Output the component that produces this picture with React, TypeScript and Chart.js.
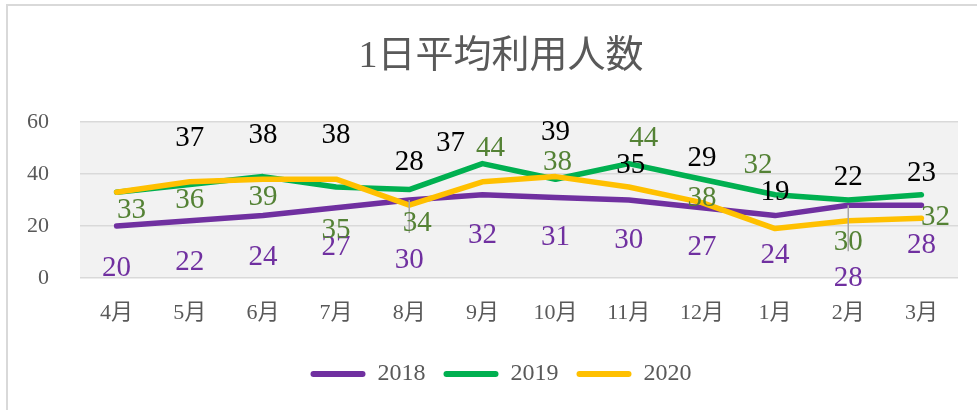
import React, { useEffect, useRef } from "react";
import { Chart, registerables } from "chart.js";

Chart.register(...registerables);

const months = ["4月", "5月", "6月", "7月", "8月", "9月", "10月", "11月", "12月", "1月", "2月", "3月"];
const values2018 = [20, 22, 24, 27, 30, 32, 31, 30, 27, 24, 28, 28];
const values2019 = [33, 36, 39, 35, 34, 44, 38, 44, 38, 32, 30, 32];
const values2020 = [33, 37, 38, 38, 28, 37, 39, 35, 29, 19, 22, 23];
const yTicks = [0, 20, 40, 60];
const seriesNames = ["2018", "2019", "2020"];
const show2020Label = [false, true, true, true, true, true, true, true, true, true, true, true];

// data label placement (pixel offsets from each point)
const labelDy2018 = [42, 42, 42, 40, 60, 41, 40, 40, 40, 40, 73, 40];
const labelDx2018 = [0, 0, 0, 0, 0, 0, 0, 0, 0, 0, 0, 0];
const labelDy2019 = [18, 16, 21, 43, 34, -15, -17, -25, 19, -29, 42, 23];
const labelDx2019 = [15, 0, 0, 0, 8, 8, 2, 15, 0, -17, 0, 14];
const labelDy2020 = [0, -43, -44, -44, -43, -38, -44, -22, -44, -36, -43, -45];
const labelDx2020 = [0, 0, 0, 0, 0, -32, 0, 2, 0, 0, 0, 0];

const FONT = "'Liberation Serif', 'Noto Sans CJK JP', serif";
const GREY_TEXT = "#595959";

export default function App() {
  const ref = useRef<HTMLCanvasElement | null>(null);

  useEffect(() => {
    if (!ref.current) return;

    const bgPlugin = {
      id: "bgPlugin",
      afterLayout(chart: any) {
        // the original chart frame extends past the right edge; centre title and legend on it
        const shift = 22;
        if (chart.titleBlock) {
          chart.titleBlock.left += shift;
          chart.titleBlock.right += shift;
        }
        if (chart.legend) {
          chart.legend.left += shift;
          chart.legend.right += shift;
        }
      },
      beforeDraw(chart: any) {
        const { ctx, chartArea } = chart;
        ctx.save();
        ctx.fillStyle = "#ffffff";
        ctx.fillRect(0, 0, chart.width, chart.height);
        ctx.strokeStyle = "#d9d9d9";
        ctx.lineWidth = 2;
        ctx.strokeRect(7, 5, 1200, 1200);
        ctx.fillStyle = "#f2f2f2";
        ctx.fillRect(chartArea.left, chartArea.top, chartArea.right - chartArea.left, chartArea.bottom - chartArea.top);
        ctx.restore();
      },
    };

    const labelSets = [
      { dx: labelDx2018, dy: labelDy2018, color: "#7030A0", show: values2018.map(() => true) },
      { dx: labelDx2019, dy: labelDy2019, color: "#548235", show: values2019.map(() => true) },
      { dx: labelDx2020, dy: labelDy2020, color: "#000000", show: show2020Label },
    ];

    const labelPlugin = {
      id: "labelPlugin",
      afterDatasetsDraw(chart: any) {
        const { ctx } = chart;
        ctx.save();
        chart.data.datasets.forEach((ds: any, di: number) => {
          const meta = chart.getDatasetMeta(di);
          const set = labelSets[di];
          meta.data.forEach((pt: any, i: number) => {
            if (!set.show[i]) return;
            if (Math.abs(set.dy[i]) > 50) {
              const ly = pt.y + set.dy[i];
              ctx.strokeStyle = "#a6a6a6";
              ctx.lineWidth = 1.5;
              ctx.beginPath();
              ctx.moveTo(pt.x, pt.y);
              ctx.lineTo(pt.x, ly - 27);
              ctx.stroke();
            }
          });
        });
        chart.data.datasets.forEach((ds: any, di: number) => {
          const meta = chart.getDatasetMeta(di);
          const set = labelSets[di];
          ctx.font = `29px ${FONT}`;
          ctx.textAlign = "center";
          ctx.textBaseline = "middle";
          ctx.fillStyle = set.color;
          meta.data.forEach((pt: any, i: number) => {
            if (!set.show[i]) return;
            ctx.fillText(String(ds.data[i]), pt.x + set.dx[i], pt.y + set.dy[i]);
          });
        });
        ctx.restore();
      },
    };

    const chart = new Chart(ref.current, {
      type: "line",
      data: {
        labels: months,
        datasets: [
          { label: seriesNames[0], data: values2018, borderColor: "#7030A0", backgroundColor: "#7030A0", order: 3 },
          { label: seriesNames[1], data: values2019, borderColor: "#00B050", backgroundColor: "#00B050", order: 2 },
          { label: seriesNames[2], data: values2020, borderColor: "#FFC000", backgroundColor: "#FFC000", order: 1 },
        ].map((d) => ({
          ...d,
          borderWidth: 5.5,
          pointRadius: 0,
          pointHoverRadius: 0,
          tension: 0,
          borderCapStyle: "round" as const,
          borderJoinStyle: "round" as const,
          fill: false,
        })),
      },
      options: {
        responsive: false,
        animation: false,
        layout: { padding: { left: 0, right: 19, top: 0, bottom: 14 } },
        plugins: {
          tooltip: { enabled: false },
          title: {
            display: true,
            text: "1日平均利用人数",
            color: GREY_TEXT,
            font: { family: FONT, size: 38, weight: "normal" as const, lineHeight: 1.2 },
            padding: { top: 34.2, bottom: 42.2 },
          },
          legend: {
            position: "bottom",
            labels: {
              boxWidth: 55,
              boxHeight: 6,
              useBorderRadius: true,
              borderRadius: 3,
              padding: 18,
              color: GREY_TEXT,
              font: { family: FONT, size: 24 },
              sort: (a: any, b: any) => a.datasetIndex - b.datasetIndex,
              generateLabels: (chart: any) =>
                chart.data.datasets.map((ds: any, i: number) => ({
                  text: ds.label,
                  fillStyle: ds.borderColor,
                  strokeStyle: ds.borderColor,
                  lineWidth: 0,
                  fontColor: GREY_TEXT,
                  hidden: false,
                  datasetIndex: i,
                  borderRadius: 3,
                })),
            },
          },
        },
        scales: {
          x: {
            offset: true,
            grid: { display: false, drawTicks: false, offset: true },
            border: { display: false },
            ticks: { color: GREY_TEXT, font: { family: FONT, size: 22 }, padding: 22, maxRotation: 0 },
            afterFit: (scale: any) => {
              scale.height = 66;
            },
          },
          y: {
            min: 0,
            max: 60,
            grid: { color: "#d9d9d9", lineWidth: 1.5, drawTicks: false },
            border: { display: false },
            ticks: { color: GREY_TEXT, font: { family: FONT, size: 22 }, padding: 31 },
            afterBuildTicks: (scale: any) => {
              scale.ticks = yTicks.map((v) => ({ value: v }));
            },
            afterFit: (scale: any) => {
              scale.width = 80;
            },
          },
        },
      },
      plugins: [bgPlugin, labelPlugin],
    });

    return () => chart.destroy();
  }, []);

  return (
    <div style={{ position: "absolute", left: 0, top: 0, width: 977, height: 410 }}>
      <canvas ref={ref} width={977} height={410} />
    </div>
  );
}
